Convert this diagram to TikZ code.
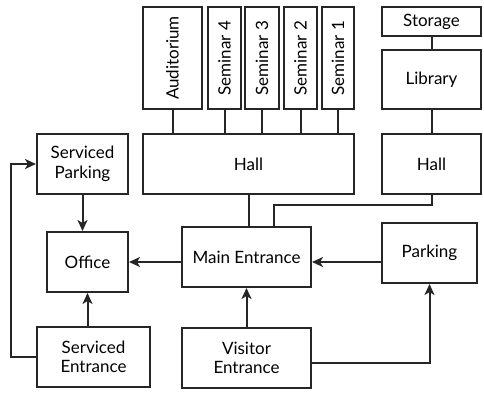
\documentclass[tikz,border=0pt]{standalone}
\usepackage{fontspec}
\setmainfont{Lato}
\usepackage{tikz}
\usetikzlibrary{arrows.meta, positioning, calc}

\begin{document}
\begin{tikzpicture}[
    x=1pt, y=-1pt,
    box/.style={
        draw=black!85,
        line width=2pt,
        align=center,
        inner sep=0pt,
        font=\fontsize{17}{19.5}\selectfont
    },
    room/.style={box, rotate=90, minimum width=102pt, minimum height=33pt},
    link/.style={draw=black!85, line width=2pt},
    arrow/.style={link, -{Stealth[length=11pt, width=10pt, inset=3pt]}}
]
\useasboundingbox (0,0) rectangle (484,392);

% upper rooms (rotated: west is the bottom side)
\node[room, minimum height=59pt] (aud) at (172.5,58) {Auditorium};
\node[room] (sem4) at (224.5,58) {Seminar 4};
\node[room, minimum height=34pt] (sem3) at (262,58) {Seminar 3};
\node[room] (sem2) at (300.5,58) {Seminar 2};
\node[room, minimum height=32pt] (sem1) at (338,58) {Seminar 1};

\node[box, minimum width=99pt, minimum height=29pt] (storage) at (431.5,21.5) {Storage};
\node[box, minimum width=99pt, minimum height=59pt] (library) at (431.5,79.5) {Library};

% halls
\node[box, minimum width=211pt, minimum height=60pt] (hall) at (248.5,164) {Hall};
\node[box, minimum width=99pt, minimum height=60pt] (hallR) at (431.5,164) {Hall};
\node[box, minimum width=91pt, minimum height=60pt] (sparking) at (82.5,164) {Serviced\\Parking};

% lower row
\node[box, minimum width=81pt, minimum height=60pt] (office) at (87.5,262) {Office};
\node[box, minimum width=129pt, minimum height=60pt] (mainent) at (246.5,257) {Main Entrance};
\node[box, minimum width=95pt, minimum height=60pt] (parking) at (429.5,253) {Parking};
\node[box, minimum width=113pt, minimum height=60pt] (sentrance) at (93.5,357) {Serviced\\Entrance};
\node[box, minimum width=129pt, minimum height=60pt] (visitor) at (246.5,358) {Visitor\\Entrance};

% plain links
\foreach \r in {aud, sem4, sem3, sem2, sem1}
    \draw[link] (\r.west) -- (\r.west |- hall.north);
\draw[link] (storage) -- (library);
\draw[link] (library) -- (hallR);
\draw[link] (hall.south) -- (hall.south |- mainent.north);
\draw[link] (hallR.south) -- ++(0,10) -| ([xshift=27.5pt]mainent.north);

% arrows
\draw[arrow] (sparking.south) -- (sparking.south |- office.north);
\draw[arrow] (mainent.west |- office) -- (office.east);
\draw[arrow] (parking.west |- office) -- (mainent.east |- office);
\draw[arrow] (office.south |- sentrance.north) -- (office.south);
\draw[arrow] (visitor) -- (mainent);
\draw[arrow] ([yshift=-5pt]visitor.east) -| (parking.south);
\draw[arrow] (sentrance.west) -- ++(-25,0) |- (sparking.west);

\end{tikzpicture}
\end{document}
